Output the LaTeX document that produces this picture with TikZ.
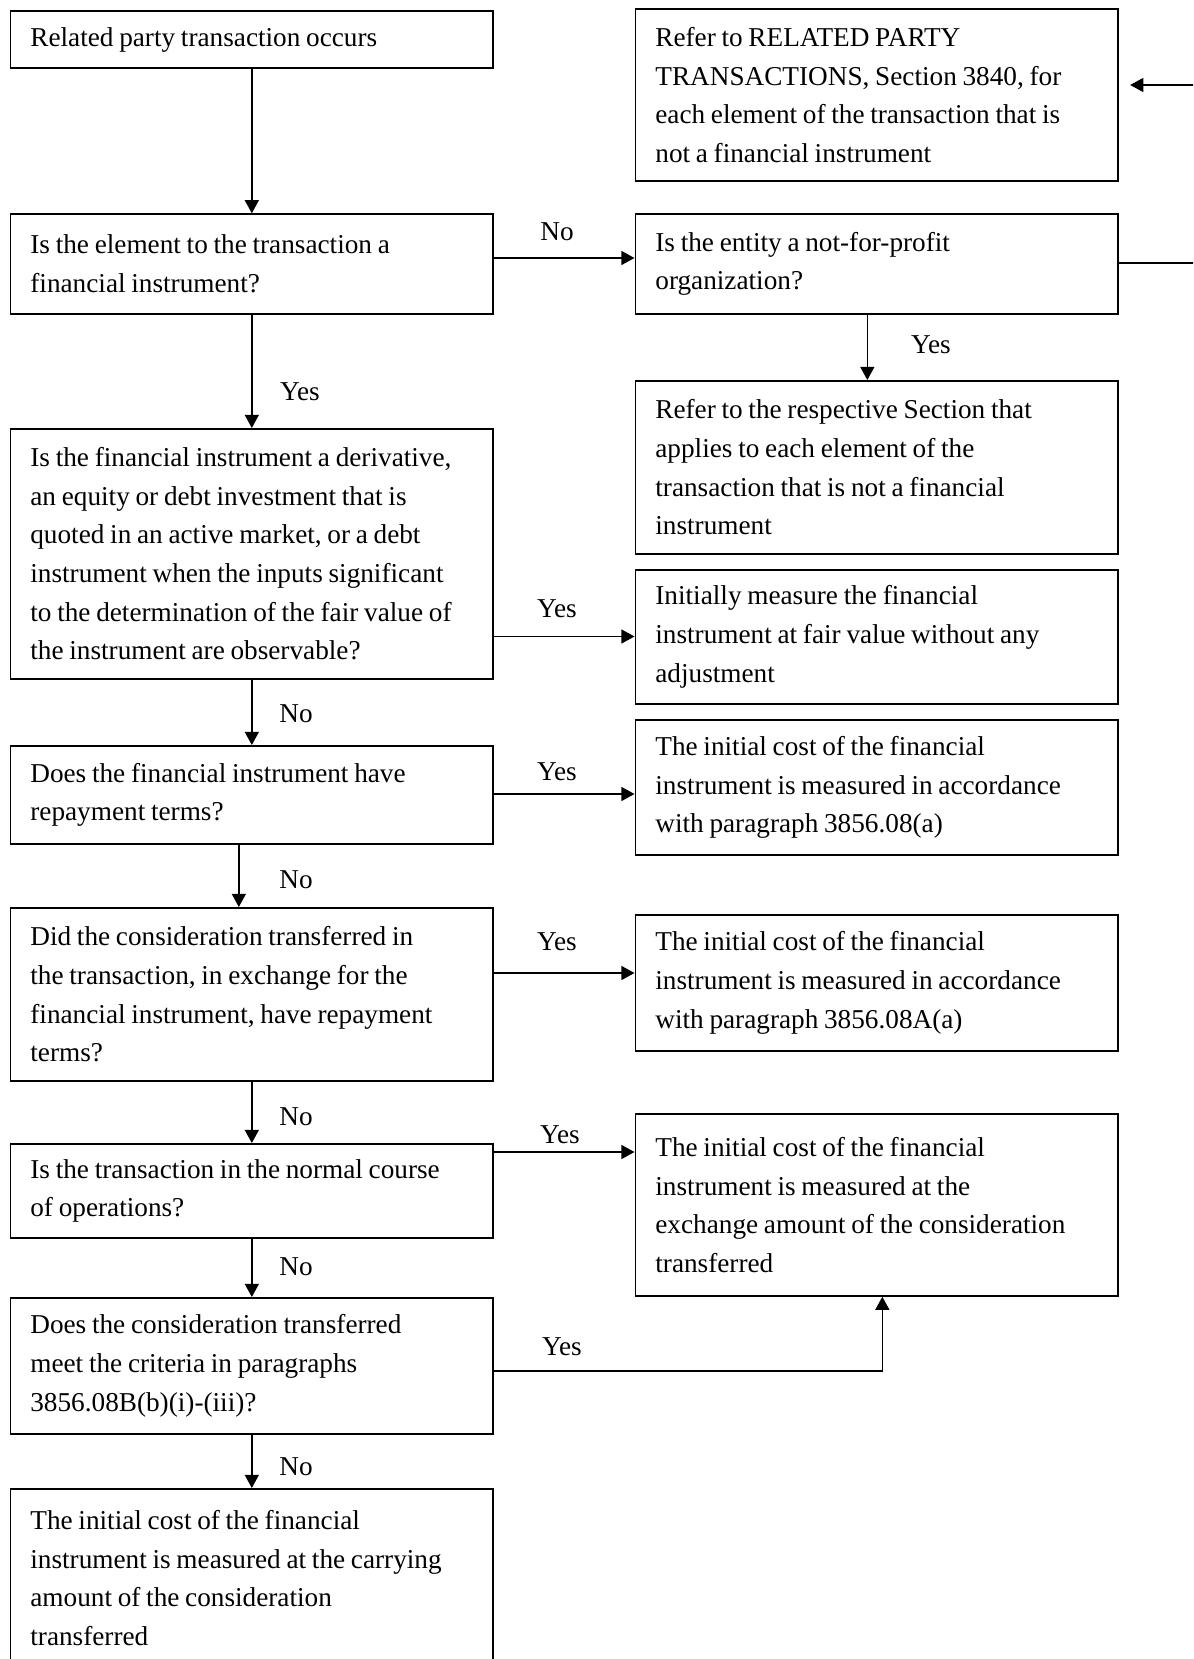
\documentclass[tikz,border=0pt]{standalone}
\usepackage{fontspec}
\setmainfont{Liberation Serif}
\usetikzlibrary{arrows.meta,positioning}
\newcommand\chartfont{\fontsize{15.5}{22}\selectfont}

\begin{document}
\begin{tikzpicture}[x=0.02cm,y=-0.02cm,font=\chartfont,
  box/.style={draw,line width=1pt,anchor=north west,inner xsep=0.4cm,inner ysep=0pt,text width=8.86cm,align=left,
    execute at begin node={\spaceskip=0.21em plus 0.1em\relax}},
  arr/.style={line width=0.8pt,-{Triangle[length=7.5pt,width=8pt]}},
  lbl/.style={inner sep=0pt,anchor=base}]

\useasboundingbox (0,0) rectangle (1193,1659);
\clip (0,0) rectangle (1193,1659);

%left column
\node[box,minimum height=1.15cm] (occurs) at (9.5,10) {Related party transaction occurs};
\node[box,minimum height=1.99cm] (element) at (9.5,213.3) {Is the element to the transaction a\\ financial instrument?};
\node[box,minimum height=5cm] (deriv) at (9.5,428) {Is the financial instrument a derivative,\\ an equity or debt investment that is\\ quoted in an active market, or a debt\\ instrument when the inputs significant\\ to the determination of the fair value of\\ the instrument are observable?};
\node[box,minimum height=1.96cm] (repay) at (9.5,745) {Does the financial instrument have\\ repayment terms?};
\node[box,minimum height=3.46cm] (consid) at (9.5,907) {Did the consideration transferred in\\ the transaction, in exchange for the\\ financial instrument, have repayment\\ terms?};
\node[box,minimum height=1.88cm] (normal) at (9.5,1143) {Is the transaction in the normal course\\ of operations?};
\node[box,minimum height=2.72cm] (criteria) at (9.5,1297) {Does the consideration transferred\\ meet the criteria in paragraphs\\ 3856.08B(b)(i)-(iii)?};
\node[box,minimum height=3.56cm] (carrying) at (9.5,1488) {The initial cost of the financial\\ instrument is measured at the carrying\\ amount of the consideration\\ transferred};

%right column
\node[box,minimum height=3.43cm] (related) at (634.5,8.5) {Refer to RELATED PARTY\\ TRANSACTIONS, Section 3840, for\\ each element of the transaction that is\\ not a financial instrument};
\node[box,minimum height=1.99cm] (nfp) at (634.5,213.3) {Is the entity a not-for-profit\\ organization?};
\node[box,minimum height=3.46cm] (section) at (634.5,380) {Refer to the respective Section that\\ applies to each element of the\\ transaction that is not a financial\\ instrument};
\node[box,minimum height=2.68cm] (fairval) at (634.5,569) {Initially measure the financial\\ instrument at fair value without any\\ adjustment};
\node[box,minimum height=2.70cm] (para08) at (634.5,719) {The initial cost of the financial\\ instrument is measured in accordance\\ with paragraph 3856.08(a)};
\node[box,minimum height=2.72cm] (para08A) at (634.5,914) {The initial cost of the financial\\ instrument is measured in accordance\\ with paragraph 3856.08A(a)};
\node[box,minimum height=3.64cm] (exchange) at (634.5,1113) {The initial cost of the financial\\ instrument is measured at the\\ exchange amount of the consideration\\ transferred};

%down the left
\draw[arr] (occurs.south) -- (element.north);
\draw[arr] (element.south) -- (deriv.north);
\draw[arr] (deriv.south) -- (repay.north);
\draw[arr] ([xshift=-0.26cm]repay.south) -- ([xshift=-0.26cm]consid.north);
\draw[arr] (consid.south) -- (normal.north);
\draw[arr] (normal.south) -- (criteria.north);
\draw[arr] (criteria.south) -- (carrying.north);

%across
\draw[arr] (element.east |- 0,258) -- (nfp.west |- 0,258);
\draw[arr] (deriv.east |- 0,636.5) -- (fairval.west |- 0,636.5);
\draw[arr] (repay.east |- 0,794) -- (para08.west |- 0,794);
\draw[arr] (consid.east |- 0,973) -- (para08A.west |- 0,973);
\draw[arr] (normal.east |- 0,1152) -- (exchange.west |- 0,1152);
\draw[arr] (criteria.east |- 0,1371) -| ([xshift=0.11cm]exchange.south);
\draw[arr] ([xshift=-0.19cm]nfp.south) -- ([xshift=-0.19cm]section.north);

%back to the top
\coordinate (edge) at (1240,263);
\draw[arr,shorten >=0.22cm] (nfp.east |- 0,263) -- (edge) |- (related.east |- 0,85);

%labels
\node[lbl] (no1) at (557,240) {No};
\node[lbl] (yes1) at (300,400) {Yes};
\node[lbl] (yes2) at (931,353) {Yes};
\node[lbl] (yes3) at (557,617) {Yes};
\node[lbl] (no2) at (296,722) {No};
\node[lbl] (yes4) at (557,780) {Yes};
\node[lbl] (no3) at (296,888) {No};
\node[lbl] (yes5) at (557,950) {Yes};
\node[lbl] (no4) at (296,1125) {No};
\node[lbl] (yes6) at (560,1143) {Yes};
\node[lbl] (no5) at (296,1275) {No};
\node[lbl] (yes7) at (562,1355) {Yes};
\node[lbl] (no6) at (296,1475) {No};

\end{tikzpicture}
\end{document}
